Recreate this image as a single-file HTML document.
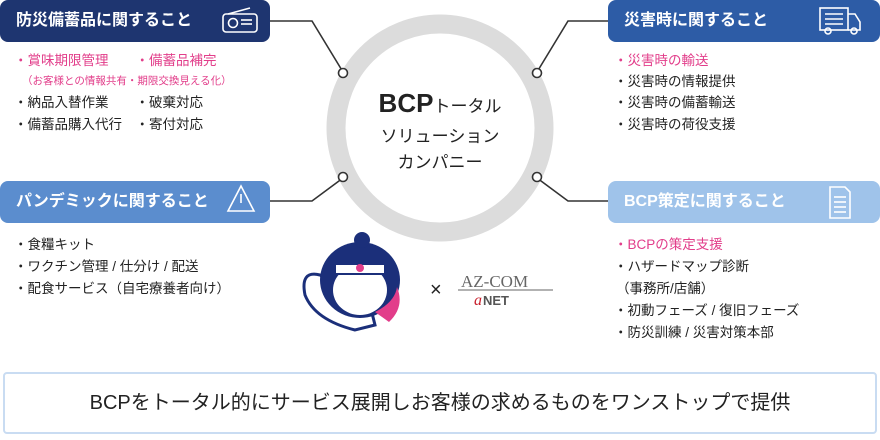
<!DOCTYPE html>
<html><head><meta charset="utf-8"><style>
body{margin:0;width:880px;height:440px;background:#fff;position:relative;overflow:hidden;font-family:"Liberation Sans","Noto Sans CJK JP",sans-serif;}
.a{position:absolute;}
.hd{position:absolute;height:42px;border-radius:8px;color:#fff;font-size:16px;font-weight:bold;line-height:42px;padding-left:16px;box-sizing:border-box;}
.t{position:absolute;font-size:13.5px;line-height:22px;color:#222;white-space:nowrap;}
.p{color:#e23d8a;}
</style></head><body>
<svg class="a" style="left:0;top:0" width="880" height="440">
<circle cx="440" cy="128" r="104" fill="none" stroke="#dcdcdc" stroke-width="19"/>
<g fill="none" stroke="#333" stroke-width="1.6">
<polyline points="270,21 312,21 343,72"/>
<polyline points="270,201 312,201 343,178"/>
<polyline points="608,21 568,21 537,72"/>
<polyline points="608,201 568,201 537,178"/>
</g>
<g fill="#fff" stroke="#333" stroke-width="1.6">
<circle cx="343" cy="73" r="4.5"/><circle cx="343" cy="177" r="4.5"/>
<circle cx="537" cy="73" r="4.5"/><circle cx="537" cy="177" r="4.5"/>
</g>
<path d="M320 275 q-20 -5 -15 20 q10 25 50 35 l20 -5 l-5 -20 z" fill="#fff" stroke="#1b2f7a" stroke-width="3"/>
<ellipse cx="360" cy="280" rx="40" ry="38" fill="#1b2f7a"/>
<ellipse cx="360" cy="290" rx="27" ry="25" fill="#fff"/>
<rect x="335" y="264" width="50" height="10" fill="#fff" stroke="#1b2f7a" stroke-width="2"/>
<circle cx="360" cy="268" r="4" fill="#e23d8a"/>
<circle cx="362" cy="240" r="8" fill="#1b2f7a"/>
<path d="M375 312 q20 -10 22 -25 q8 20 -8 35 z" fill="#e23d8a"/>
<text x="430" y="296" font-size="20" fill="#222" font-family="Liberation Sans">×</text>
<text x="461" y="287" font-size="17" fill="#666" font-family="Liberation Serif">AZ-COM</text>
<line x1="458" y1="290" x2="553" y2="290" stroke="#666" stroke-width="1"/>
<text x="483" y="305" font-size="13" font-weight="bold" fill="#555">NET</text>
<text x="474" y="305" font-size="16" font-style="italic" fill="#c8202c" font-family="Liberation Serif">a</text>
<!-- icons -->
<g fill="none" stroke="#fff" stroke-width="1.6">
<rect x="223" y="14" width="34" height="18" rx="3"/><circle cx="233" cy="23" r="4.5"/><line x1="241" y1="20" x2="252" y2="20"/><line x1="241" y1="24" x2="252" y2="24"/><line x1="228" y1="14" x2="250" y2="8"/>
<path d="M241 186 l-13 25 h26 z"/><line x1="241" y1="194" x2="241" y2="203"/>
<rect x="820" y="8" width="28" height="22"/><path d="M848 14 h7 l5 8 v8 h-12"/><circle cx="828" cy="31" r="3"/><circle cx="854" cy="31" r="3"/><line x1="825" y1="14" x2="843" y2="14"/><line x1="825" y1="19" x2="843" y2="19"/><line x1="825" y1="24" x2="843" y2="24"/>
<path d="M830 187 h15 l5 5 v26 h-20 z"/><line x1="834" y1="197" x2="846" y2="197"/><line x1="834" y1="202" x2="846" y2="202"/><line x1="834" y1="207" x2="846" y2="207"/><line x1="834" y1="212" x2="846" y2="212"/>
</g>
</svg>
<div class="hd" style="left:0;top:0;width:270px;background:#1e3570;">防災備蓄品に関すること</div>
<div class="hd" style="left:0;top:181px;width:270px;background:#5b8dce;">パンデミックに関すること</div>
<div class="hd" style="left:608px;top:0;width:272px;background:#2d5ca6;">災害時に関すること</div>
<div class="hd" style="left:608px;top:181px;width:272px;background:#9fc3ea;">BCP策定に関すること</div>
<svg class="a" style="left:0;top:0" width="880" height="440">
<g fill="none" stroke="#fff" stroke-width="1.6">
<rect x="223" y="14" width="34" height="18" rx="3"/><circle cx="233" cy="23" r="4.5"/><line x1="241" y1="20" x2="252" y2="20"/><line x1="241" y1="24" x2="252" y2="24"/><line x1="228" y1="14" x2="250" y2="8"/>
<path d="M241 186 l-13 25 h26 z"/><line x1="241" y1="194" x2="241" y2="203"/>
<rect x="820" y="8" width="28" height="22"/><path d="M848 14 h7 l5 8 v8 h-12"/><circle cx="828" cy="31" r="3"/><circle cx="854" cy="31" r="3"/><line x1="825" y1="14" x2="843" y2="14"/><line x1="825" y1="19" x2="843" y2="19"/><line x1="825" y1="24" x2="843" y2="24"/>
<path d="M830 187 h15 l5 5 v26 h-20 z"/><line x1="834" y1="197" x2="846" y2="197"/><line x1="834" y1="202" x2="846" y2="202"/><line x1="834" y1="207" x2="846" y2="207"/><line x1="834" y1="212" x2="846" y2="212"/>
</g>
</svg>

<div class="t p" style="left:14px;top:50px">・賞味期限管理　　・備蓄品補完</div>
<div class="t p" style="left:22px;top:70px;font-size:10.5px">（お客様との情報共有・期限交換見える化）</div>
<div class="t" style="left:14px;top:92px">・納品入替作業　　・破棄対応</div>
<div class="t" style="left:14px;top:114px">・備蓄品購入代行　・寄付対応</div>

<div class="t" style="left:14px;top:234px">・食糧キット</div>
<div class="t" style="left:14px;top:256px">・ワクチン管理 / 仕分け / 配送</div>
<div class="t" style="left:14px;top:278px">・配食サービス（自宅療養者向け）</div>

<div class="t p" style="left:614px;top:50px">・災害時の輸送</div>
<div class="t" style="left:614px;top:71px">・災害時の情報提供</div>
<div class="t" style="left:614px;top:92px">・災害時の備蓄輸送</div>
<div class="t" style="left:614px;top:114px">・災害時の荷役支援</div>

<div class="t p" style="left:614px;top:234px">・BCPの策定支援</div>
<div class="t" style="left:614px;top:256px">・ハザードマップ診断</div>
<div class="t" style="left:616px;top:278px">（事務所/店舗）</div>
<div class="t" style="left:614px;top:300px">・初動フェーズ / 復旧フェーズ</div>
<div class="t" style="left:614px;top:322px">・防災訓練 / 災害対策本部</div>

<div class="a" style="left:340px;top:86px;width:200px;text-align:center;color:#222;">
<div style="font-size:26px;line-height:34px;font-weight:bold">BCP<span style="font-size:17px;font-weight:normal">トータル</span></div>
<div style="font-size:17px;line-height:26px">ソリューション</div>
<div style="font-size:17px;line-height:26px">カンパニー</div>
</div>

<div class="a" style="left:3px;top:372px;width:874px;height:62px;border:2px solid #c9dcf2;border-radius:4px;box-sizing:border-box;text-align:center;line-height:58px;font-size:20px;color:#222;">BCPをトータル的にサービス展開しお客様の求めるものをワンストップで提供</div>
</body></html>
